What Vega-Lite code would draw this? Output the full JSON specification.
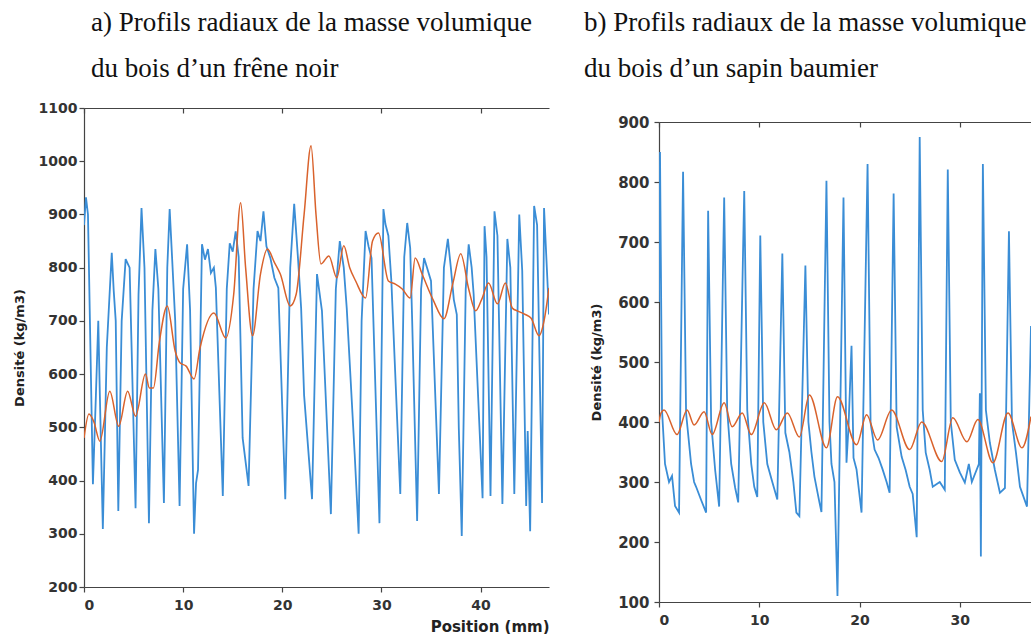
{
  "$schema": "https://vega.github.io/schema/vega-lite/v6.json",
  "padding": {"left": 13, "top": 9, "right": 0, "bottom": 0},
  "background": "white",
  "spacing": 110,
  "bounds": "flush",
  "config": {
    "view": {"stroke": null},
    "axis": {
      "labelFont": "DejaVu Sans", "labelFontWeight": "bold", "labelFontSize": 14, "labelColor": "#333",
      "titleFont": "DejaVu Sans", "titleFontWeight": "bold", "titleFontSize": 13, "titleColor": "#222",
      "domainColor": "#444", "tickColor": "#444", "grid": false, "domainWidth": 1.2, "tickSize": 5, "tickWidth": 1.2
    },
    "title": {"font": "Liberation Serif", "fontSize": 27, "fontWeight": "normal", "color": "#111", "anchor": "start", "frame": "group", "lineHeight": 46, "baseline": "bottom"}
  },
  "datasets": {
    "a_brut": [
      {"x":0.0,"y":880},{"x":0.2,"y":932},{"x":0.4,"y":900},{"x":0.9,"y":393},{"x":1.2,"y":560},{"x":1.44,"y":700},{"x":1.6,"y":560},{"x":1.9,"y":309},
      {"x":2.3,"y":650},{"x":2.8,"y":828},{"x":3.0,"y":756},{"x":3.2,"y":700},{"x":3.46,"y":343},{"x":3.8,"y":700},{"x":4.2,"y":816},{"x":4.6,"y":800},
      {"x":4.8,"y":650},{"x":5.2,"y":348},{"x":5.5,"y":750},{"x":5.8,"y":912},{"x":6.1,"y":800},{"x":6.55,"y":320},{"x":6.9,"y":720},{"x":7.2,"y":835},
      {"x":7.5,"y":760},{"x":8.06,"y":358},{"x":8.4,"y":800},{"x":8.64,"y":910},{"x":8.9,"y":813},{"x":9.2,"y":700},{"x":9.64,"y":352},{"x":10.0,"y":760},
      {"x":10.4,"y":844},{"x":10.7,"y":720},{"x":11.1,"y":300},{"x":11.3,"y":395},{"x":11.5,"y":420},{"x":11.9,"y":844},{"x":12.2,"y":815},{"x":12.5,"y":835},
      {"x":12.8,"y":790},{"x":13.1,"y":800},{"x":13.3,"y":762},{"x":14.0,"y":371},{"x":14.4,"y":760},{"x":14.7,"y":846},{"x":15.0,"y":830},{"x":15.3,"y":868},
      {"x":15.6,"y":820},{"x":16.0,"y":480},{"x":16.6,"y":390},{"x":17.1,"y":760},{"x":17.5,"y":869},{"x":17.8,"y":850},{"x":18.1,"y":906},{"x":18.4,"y":840},
      {"x":18.8,"y":818},{"x":19.2,"y":781},{"x":19.6,"y":762},{"x":20.3,"y":365},{"x":20.8,"y":800},{"x":21.2,"y":920},{"x":21.6,"y":813},{"x":21.9,"y":724},
      {"x":22.2,"y":560},{"x":23.0,"y":365},{"x":23.5,"y":788},{"x":23.7,"y":760},{"x":24.0,"y":719},{"x":24.9,"y":337},{"x":25.4,"y":760},{"x":25.8,"y":850},
      {"x":26.2,"y":800},{"x":26.5,"y":724},{"x":27.3,"y":450},{"x":27.7,"y":300},{"x":28.0,"y":700},{"x":28.4,"y":869},{"x":28.7,"y":840},{"x":29.0,"y":818},
      {"x":29.8,"y":320},{"x":30.2,"y":910},{"x":30.4,"y":882},{"x":30.7,"y":860},{"x":31.0,"y":775},{"x":31.9,"y":375},{"x":32.3,"y":820},{"x":32.6,"y":884},
      {"x":32.9,"y":837},{"x":33.1,"y":700},{"x":33.6,"y":324},{"x":34.0,"y":760},{"x":34.3,"y":818},{"x":34.6,"y":800},{"x":35.0,"y":775},{"x":35.8,"y":375},
      {"x":36.3,"y":800},{"x":36.7,"y":854},{"x":37.0,"y":800},{"x":37.3,"y":740},{"x":37.6,"y":712},{"x":37.8,"y":500},{"x":38.1,"y":296},{"x":38.5,"y":760},
      {"x":38.8,"y":844},{"x":39.1,"y":800},{"x":39.3,"y":750},{"x":40.2,"y":367},{"x":40.4,"y":878},{"x":40.6,"y":820},{"x":41.0,"y":371},{"x":41.4,"y":906},
      {"x":41.7,"y":860},{"x":42.2,"y":356},{"x":42.7,"y":854},{"x":43.0,"y":800},{"x":43.4,"y":375},{"x":43.9,"y":900},{"x":44.2,"y":794},{"x":44.6,"y":352},
      {"x":44.75,"y":493},{"x":45.0,"y":305},{"x":45.4,"y":916},{"x":45.7,"y":880},{"x":46.2,"y":358},{"x":46.4,"y":912},{"x":46.9,"y":712}
    ],
    "a_lisse": [
      {"x":0.0,"y":480},{"x":0.5,"y":525},{"x":1.0,"y":510},{"x":1.6,"y":474},{"x":2.6,"y":568},{"x":3.5,"y":502},{"x":4.4,"y":568},{"x":5.2,"y":521},
      {"x":6.2,"y":600},{"x":6.6,"y":574},{"x":7.0,"y":574},{"x":7.6,"y":660},{"x":8.4,"y":728},{"x":9.2,"y":643},{"x":9.7,"y":621},{"x":10.3,"y":615},
      {"x":11.1,"y":591},{"x":11.7,"y":649},{"x":13.1,"y":715},{"x":14.3,"y":668},{"x":15.1,"y":750},{"x":15.8,"y":922},{"x":16.3,"y":800},{"x":17.0,"y":672},
      {"x":17.8,"y":788},{"x":18.5,"y":835},{"x":19.2,"y":810},{"x":19.8,"y":788},{"x":20.8,"y":728},{"x":21.4,"y":750},{"x":22.2,"y":900},{"x":22.9,"y":1029},
      {"x":23.4,"y":900},{"x":23.9,"y":807},{"x":24.7,"y":822},{"x":25.5,"y":781},{"x":26.2,"y":841},{"x":26.8,"y":800},{"x":27.4,"y":775},{"x":28.4,"y":743},
      {"x":29.1,"y":850},{"x":29.7,"y":865},{"x":30.7,"y":775},{"x":31.4,"y":769},{"x":32.1,"y":760},{"x":32.9,"y":743},{"x":33.4,"y":818},{"x":34.1,"y":788},
      {"x":35.2,"y":740},{"x":36.3,"y":704},{"x":37.2,"y":770},{"x":38.0,"y":826},{"x":38.8,"y":760},{"x":39.5,"y":719},{"x":40.1,"y":740},{"x":40.8,"y":771},
      {"x":41.7,"y":732},{"x":42.5,"y":771},{"x":43.2,"y":724},{"x":43.8,"y":718},{"x":44.5,"y":712},{"x":45.1,"y":705},{"x":45.9,"y":672},{"x":46.4,"y":700},
      {"x":46.9,"y":762}
    ],
    "b_brut": [
      {"x":0.0,"y":600},{"x":0.1,"y":850},{"x":0.3,"y":420},{"x":0.6,"y":330},{"x":1.0,"y":300},{"x":1.3,"y":310},{"x":1.6,"y":260},{"x":2.0,"y":249},
      {"x":2.4,"y":817},{"x":2.7,"y":415},{"x":3.2,"y":330},{"x":3.5,"y":300},{"x":3.7,"y":292},{"x":4.2,"y":270},{"x":4.7,"y":249},{"x":4.9,"y":752},
      {"x":5.2,"y":400},{"x":5.6,"y":320},{"x":6.0,"y":259},{"x":6.5,"y":774},{"x":6.8,"y":420},{"x":7.2,"y":330},{"x":7.6,"y":290},{"x":7.9,"y":266},
      {"x":8.5,"y":785},{"x":8.8,"y":420},{"x":9.2,"y":330},{"x":9.5,"y":292},{"x":9.8,"y":275},{"x":10.1,"y":711},{"x":10.4,"y":400},{"x":10.8,"y":330},
      {"x":11.3,"y":300},{"x":11.8,"y":271},{"x":12.3,"y":681},{"x":12.6,"y":382},{"x":13.0,"y":350},{"x":13.4,"y":300},{"x":13.7,"y":249},{"x":14.0,"y":243},
      {"x":14.6,"y":661},{"x":14.9,"y":400},{"x":15.2,"y":350},{"x":15.5,"y":309},{"x":16.0,"y":266},{"x":16.2,"y":250},{"x":16.7,"y":802},{"x":17.0,"y":400},
      {"x":17.2,"y":330},{"x":17.5,"y":300},{"x":17.8,"y":110},{"x":18.4,"y":774},{"x":18.7,"y":332},{"x":18.9,"y":392},{"x":19.2,"y":527},{"x":19.4,"y":340},
      {"x":19.7,"y":321},{"x":20.2,"y":249},{"x":20.8,"y":830},{"x":21.1,"y":399},{"x":21.5,"y":354},{"x":21.9,"y":340},{"x":22.3,"y":321},{"x":22.7,"y":300},
      {"x":23.0,"y":282},{"x":23.4,"y":781},{"x":23.7,"y":392},{"x":24.2,"y":342},{"x":24.6,"y":320},{"x":25.0,"y":292},{"x":25.3,"y":280},{"x":25.7,"y":208},
      {"x":26.0,"y":875},{"x":26.3,"y":420},{"x":26.6,"y":349},{"x":27.0,"y":320},{"x":27.3,"y":292},{"x":28.0,"y":300},{"x":28.5,"y":287},{"x":28.8,"y":821},
      {"x":29.1,"y":400},{"x":29.5,"y":337},{"x":30.0,"y":316},{"x":30.5,"y":299},{"x":30.9,"y":330},{"x":31.2,"y":300},{"x":31.9,"y":330},{"x":32.0,"y":448},
      {"x":32.1,"y":176},{"x":32.3,"y":830},{"x":32.6,"y":420},{"x":33.0,"y":365},{"x":33.5,"y":320},{"x":34.0,"y":282},{"x":34.5,"y":290},{"x":34.9,"y":718},
      {"x":35.2,"y":400},{"x":35.6,"y":349},{"x":36.0,"y":292},{"x":36.7,"y":259},{"x":37.1,"y":560}
    ],
    "b_lisse": [
      {"x":0.0,"y":400},{"x":0.2,"y":415},{"x":0.5,"y":420},{"x":1.8,"y":379},{"x":2.8,"y":420},{"x":3.5,"y":395},{"x":4.5,"y":417},{"x":5.3,"y":379},
      {"x":6.5,"y":432},{"x":7.3,"y":392},{"x":8.3,"y":415},{"x":9.2,"y":379},{"x":10.5,"y":432},{"x":11.7,"y":387},{"x":12.8,"y":415},{"x":14.0,"y":375},
      {"x":15.0,"y":445},{"x":16.7,"y":357},{"x":17.8,"y":442},{"x":19.7,"y":362},{"x":20.7,"y":412},{"x":21.8,"y":370},{"x":23.2,"y":420},{"x":25.0,"y":354},
      {"x":26.2,"y":400},{"x":28.2,"y":334},{"x":29.3,"y":407},{"x":30.7,"y":367},{"x":31.8,"y":404},{"x":33.3,"y":332},{"x":34.8,"y":415},{"x":36.2,"y":357},
      {"x":37.1,"y":409}
    ]
  },
  "hconcat": [
    {
      "width": 465,
      "height": 479,
      "title": {"text": ["a) Profils radiaux de la masse volumique", "du bois d’un frêne noir"], "dx": 7, "offset": 18},
      "encoding": {
        "y": {"field": "y", "type": "quantitative", "scale": {"domain": [200, 1100], "nice": false, "zero": false},
              "axis": {"values": [200,300,400,500,600,700,800,900,1000,1100], "format": "d", "labelPadding": 2, "titlePadding": 12, "title": "Densité (kg/m3)"}}
      },
      "layer": [
        {
          "data": {"name": "a_brut"},
          "mark": {"type": "line", "color": "#3a8dd6", "strokeWidth": 1.8, "clip": true},
          "encoding": {
            "x": {"field": "x", "type": "quantitative", "scale": {"domain": [0, 46.9], "nice": false, "zero": false},
                  "axis": {"values": [0,10,20,30,40], "format": "d", "labelPadding": 6, "title": "Position (mm)", "titleAnchor": "end", "titlePadding": 7, "titleFontSize": 15}}
          }
        },
        {
          "data": {"name": "a_lisse"},
          "mark": {"type": "line", "color": "#d9622c", "strokeWidth": 1.5, "interpolate": "monotone", "clip": true},
          "encoding": {
            "x": {"field": "x", "type": "quantitative", "scale": {"domain": [0, 46.9], "nice": false, "zero": false},
                  "axis": {"orient": "top", "values": [0,10,20,30,40], "labels": false, "title": null, "tickSize": -5}}
          }
        }
      ],
      "resolve": {"axis": {"x": "independent"}}
    },
    {
      "width": 372,
      "height": 494,
      "title": {"text": ["b) Profils radiaux de la masse volumique", "du bois d’un sapin baumier"], "dx": -75, "offset": 25},
      "encoding": {
        "y": {"field": "y", "type": "quantitative", "scale": {"domain": [100, 900], "range": [494, 14], "nice": false, "zero": false},
              "axis": {"values": [100,200,300,400,500,600,700,800,900], "format": "d", "labelPadding": 5, "labelFontSize": 15, "titlePadding": 14, "title": "Densité (kg/m3)"}}
      },
      "layer": [
        {
          "data": {"name": "b_brut"},
          "mark": {"type": "line", "color": "#3a8dd6", "strokeWidth": 1.8, "clip": true},
          "encoding": {
            "x": {"field": "x", "type": "quantitative", "scale": {"domain": [0, 37.1], "nice": false, "zero": false},
                  "axis": {"values": [0,10,20,30], "format": "d", "labelPadding": 6, "title": null}}
          }
        },
        {
          "data": {"name": "b_lisse"},
          "mark": {"type": "line", "color": "#d9622c", "strokeWidth": 1.5, "interpolate": "monotone", "clip": true},
          "encoding": {
            "x": {"field": "x", "type": "quantitative", "scale": {"domain": [0, 37.1], "nice": false, "zero": false},
                  "axis": {"orient": "top", "offset": -14, "values": [0,10,20,30], "labels": false, "title": null, "tickSize": -5}}
          }
        }
      ],
      "resolve": {"axis": {"x": "independent"}}
    }
  ]
}
